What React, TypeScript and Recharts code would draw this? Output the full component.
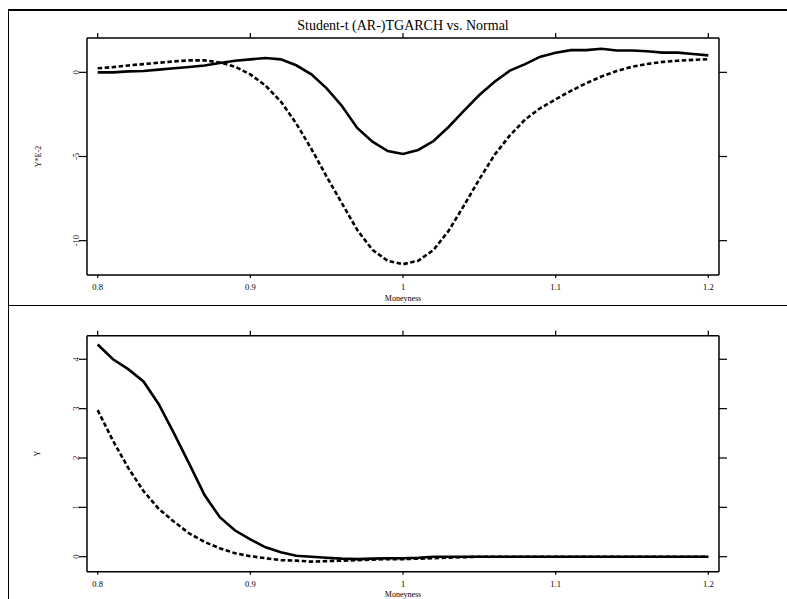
import { Label, Line, LineChart, XAxis, YAxis } from 'recharts'

const moneyness = [
  0.8, 0.81, 0.82, 0.83, 0.84, 0.85, 0.86, 0.87, 0.88, 0.89, 0.9, 0.91, 0.92, 0.93, 0.94, 0.95, 0.96, 0.97, 0.98, 0.99, 1,
  1.01, 1.02, 1.03, 1.04, 1.05, 1.06, 1.07, 1.08, 1.09, 1.1, 1.11, 1.12, 1.13, 1.14, 1.15, 1.16, 1.17, 1.18, 1.19, 1.2,
]

// upper panel, Y*E-2
const studentTop = [
  0, 0, 0.06, 0.08, 0.16, 0.24, 0.32, 0.41, 0.55, 0.69, 0.77, 0.85, 0.77, 0.42, -0.12, -0.95, -2.0, -3.3, -4.12, -4.68, -4.85,
  -4.61, -4.08, -3.23, -2.28, -1.35, -0.56, 0.1, 0.49, 0.93, 1.16, 1.32, 1.32, 1.4, 1.3, 1.3, 1.25, 1.17, 1.17, 1.09, 1.01,
]
const normalTop = [
  0.24, 0.31, 0.41, 0.49, 0.57, 0.65, 0.71, 0.71, 0.59, 0.33, -0.12, -0.79, -1.74, -3.03, -4.55, -6.2, -7.78, -9.36, -10.55, -11.2, -11.4,
  -11.19, -10.55, -9.4, -7.9, -6.35, -4.9, -3.75, -2.8, -2.12, -1.6, -1.1, -0.65, -0.25, 0.08, 0.33, 0.5, 0.62, 0.69, 0.74, 0.78,
]

// lower panel, Y
const studentBottom = [
  4.3, 4.0, 3.8, 3.55, 3.09, 2.5, 1.88, 1.25, 0.8, 0.53, 0.35, 0.19, 0.09, 0.02, 0, -0.02, -0.04, -0.05, -0.04, -0.03, -0.03,
  -0.02, 0, 0, 0, 0, 0, 0, 0, 0, 0, 0, 0, 0, 0, 0, 0, 0, 0, 0, 0,
]
const normalBottom = [
  2.97, 2.35, 1.8, 1.33, 0.97, 0.71, 0.47, 0.3, 0.17, 0.07, 0.01, -0.03, -0.07, -0.08, -0.1, -0.09, -0.08, -0.07, -0.06, -0.05, -0.05,
  -0.04, -0.03, -0.02, -0.01, 0, 0, 0, 0, 0, 0, 0, 0, 0, 0, 0, 0, 0, 0, 0, 0,
]

const xTicks = [0.8, 0.9, 1, 1.1, 1.2]
const topTicks = [-10, -5, 0]
const bottomTicks = [0, 1, 2, 3, 4]

const serif = '"Liberation Serif", "DejaVu Serif", serif'
const xDomain = [0.793, 1.207]

function LeftTick({ x, y, payload }: any) {
  const cx = x - 3
  return (
    <text x={cx} y={y} transform={`rotate(-90 ${cx} ${y})`} textAnchor="middle" dominantBaseline="central" fontSize={8.5} fontFamily={serif} fill="#000">
      {payload.value}
    </text>
  )
}

function BottomTick({ x, y, payload }: any) {
  return (
    <text x={x} y={y + 9} textAnchor="middle" dominantBaseline="central" fontSize={8.5} fontFamily={serif} fill="#000">
      {payload.value}
    </text>
  )
}

// tick marks only, no labels
function NoLabel() {
  return <g />
}

function Panel({ rows, yDomain, yTicks, yLabel, top, height, margin, bottomHeight }: any) {
  const axisLine = { stroke: '#000', strokeWidth: 1.5 }
  const tickLine = { stroke: '#000', strokeWidth: 1.2 }
  return (
    <div style={{ position: 'absolute', left: 0, top, width: 787, height }}>
      <LineChart width={787} height={height} data={rows} margin={margin}>
        <XAxis xAxisId="b" dataKey="m" type="number" domain={xDomain} ticks={xTicks} allowDataOverflow
          orientation="bottom" height={bottomHeight} axisLine={axisLine} tickLine={tickLine} tickSize={3} tickMargin={0} tick={<BottomTick />}>
          <Label content={({ viewBox }: any) => (
            <text x={viewBox.x + viewBox.width / 2} y={viewBox.y + 23} textAnchor="middle" dominantBaseline="central" fontSize={8} fontFamily={serif} fill="#000">
              Moneyness
            </text>
          )} />
        </XAxis>
        <XAxis xAxisId="t" dataKey="m" type="number" domain={xDomain} ticks={xTicks} allowDataOverflow
          orientation="top" height={10} axisLine={axisLine} tickLine={tickLine} tickSize={5} tickMargin={0} tick={<NoLabel />} />
        <YAxis yAxisId="l" type="number" domain={yDomain} ticks={yTicks} allowDataOverflow
          orientation="left" width={80} axisLine={axisLine} tickLine={tickLine} tickSize={8} tickMargin={0} tick={<LeftTick />}>
          <Label content={({ viewBox }: any) => {
            const cx = viewBox.x + 31
            const cy = viewBox.y + viewBox.height / 2
            return (
              <text x={cx} y={cy} transform={`rotate(-90 ${cx} ${cy})`} textAnchor="middle" dominantBaseline="central" fontSize={8} fontFamily={serif} fill="#000">
                {yLabel}
              </text>
            )
          }} />
        </YAxis>
        <YAxis yAxisId="r" type="number" domain={yDomain} ticks={yTicks} allowDataOverflow
          orientation="right" width={20} axisLine={axisLine} tickLine={tickLine} tickSize={8} tickMargin={0} tick={<NoLabel />} />
        <Line xAxisId="b" yAxisId="l" type="linear" dataKey="t" stroke="#000" strokeWidth={2.6} dot={false} isAnimationActive={false} />
        <Line xAxisId="b" yAxisId="l" type="linear" dataKey="n" stroke="#000" strokeWidth={2.6} strokeDasharray="4.5 2.5" dot={false} isAnimationActive={false} />
      </LineChart>
    </div>
  )
}

export default function App() {
  const topRows = moneyness.map((m, i) => ({ m, t: studentTop[i], n: normalTop[i] }))
  const bottomRows = moneyness.map((m, i) => ({ m, t: studentBottom[i], n: normalBottom[i] }))

  return (
    <div style={{ position: 'absolute', left: 0, top: 0, width: 787, height: 599, background: '#fff', overflow: 'hidden', fontFamily: serif }}>
      <div style={{ position: 'absolute', left: 8, top: 9, width: 779, height: 1.5, background: '#000' }} />
      <div style={{ position: 'absolute', left: 7.5, top: 9, width: 1.5, height: 590, background: '#000' }} />
      <div style={{ position: 'absolute', left: 8, top: 304.5, width: 779, height: 1.5, background: '#000' }} />
      <div style={{ position: 'absolute', left: 87, top: 18, width: 632, textAlign: 'center', fontSize: 14, lineHeight: '16px', color: '#000' }}>
        Student-t (AR-)TGARCH vs. Normal
      </div>
      <Panel rows={topRows} yDomain={[-12.04, 2.04]} yTicks={topTicks} yLabel="Y*E-2" top={0} height={305}
        margin={{ top: 28, right: 48, bottom: 2, left: 7 }} bottomHeight={28} />
      <Panel rows={bottomRows} yDomain={[-0.304, 4.478]} yTicks={bottomTicks} yLabel="Y" top={305} height={294}
        margin={{ top: 20.7, right: 48, bottom: 1.3, left: 7 }} bottomHeight={26} />
    </div>
  )
}
